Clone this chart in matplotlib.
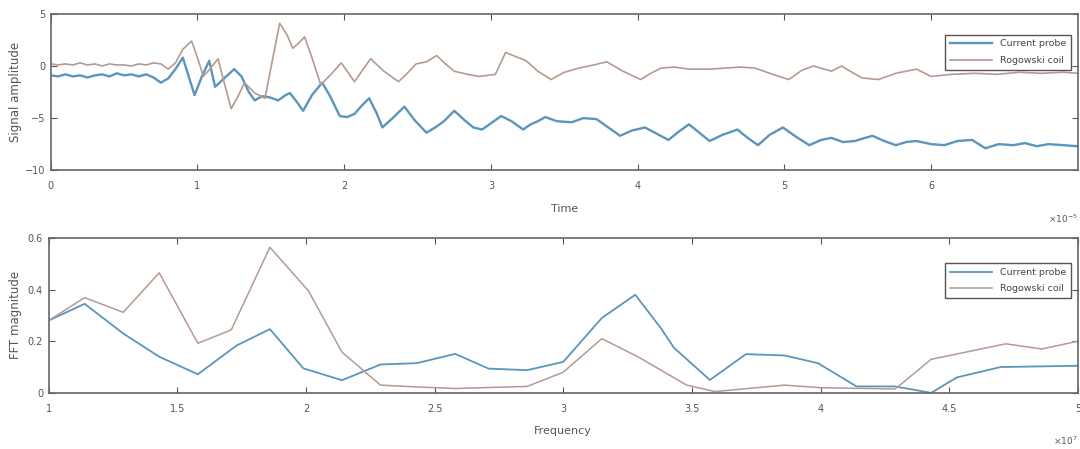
import matplotlib.pyplot as plt

# time-domain signals (time in units of 1e-5)
t_probe = [0.00, 0.05, 0.10, 0.15, 0.20, 0.25, 0.30, 0.35, 0.40, 0.45, 0.50, 0.55, 0.60, 0.65,
           0.70, 0.75, 0.80, 0.85, 0.90, 0.94, 0.98, 1.03, 1.08, 1.12, 1.18, 1.25, 1.30, 1.35,
           1.39, 1.44, 1.49, 1.55, 1.60, 1.63, 1.68, 1.72, 1.78, 1.85, 1.90, 1.97, 2.02, 2.07,
           2.12, 2.17, 2.22, 2.26, 2.33, 2.41, 2.48, 2.56, 2.62, 2.68, 2.75, 2.82, 2.88, 2.94,
           3.00, 3.07, 3.14, 3.22, 3.27, 3.32, 3.37, 3.45, 3.55, 3.63, 3.72, 3.80, 3.88, 3.96,
           4.05, 4.13, 4.21, 4.28, 4.35, 4.42, 4.49, 4.58, 4.68, 4.75, 4.82, 4.90, 4.99, 5.08,
           5.17, 5.25, 5.32, 5.40, 5.48, 5.55, 5.60, 5.68, 5.76, 5.83, 5.90, 6.00, 6.09, 6.18,
           6.28, 6.37, 6.46, 6.56, 6.64, 6.72, 6.80, 6.90, 7.00]
y_probe = [-0.9, -1.0, -0.8, -1.0, -0.9, -1.1, -0.9, -0.8, -1.0, -0.7, -0.9, -0.8, -1.0, -0.8,
           -1.1, -1.6, -1.2, -0.3, 0.8, -1.0, -2.8, -1.0, 0.5, -2.0, -1.2, -0.3, -1.0, -2.5,
           -3.3, -2.9, -3.0, -3.3, -2.8, -2.6, -3.5, -4.3, -2.8, -1.6, -2.8, -4.8, -4.9, -4.6,
           -3.8, -3.1, -4.5, -5.9, -5.0, -3.9, -5.2, -6.4, -5.9, -5.3, -4.3, -5.2, -5.9, -6.1,
           -5.5, -4.8, -5.3, -6.1, -5.6, -5.3, -4.9, -5.3, -5.4, -5.0, -5.1, -5.9, -6.7, -6.2,
           -5.9, -6.5, -7.1, -6.3, -5.6, -6.4, -7.2, -6.6, -6.1, -6.9, -7.6, -6.6, -5.9, -6.8,
           -7.6, -7.1, -6.9, -7.3, -7.2, -6.9, -6.7, -7.2, -7.6, -7.3, -7.2, -7.5, -7.6, -7.2,
           -7.1, -7.9, -7.5, -7.6, -7.4, -7.7, -7.5, -7.6, -7.7]

t_coil = [0.00, 0.05, 0.10, 0.15, 0.20, 0.25, 0.30, 0.35, 0.40, 0.45, 0.50, 0.55, 0.60, 0.65,
          0.70, 0.75, 0.80, 0.85, 0.90, 0.96, 1.00, 1.04, 1.09, 1.14, 1.18, 1.23, 1.28, 1.32,
          1.39, 1.46, 1.51, 1.56, 1.61, 1.65, 1.69, 1.73, 1.78, 1.84, 1.91, 1.98, 2.03, 2.07,
          2.13, 2.18, 2.27, 2.37, 2.43, 2.49, 2.56, 2.63, 2.69, 2.75, 2.84, 2.92, 3.03, 3.10,
          3.17, 3.24, 3.32, 3.41, 3.50, 3.60, 3.70, 3.79, 3.90, 4.02, 4.09, 4.16, 4.25, 4.35,
          4.49, 4.60, 4.70, 4.80, 4.92, 5.03, 5.12, 5.20, 5.32, 5.39, 5.46, 5.53, 5.64, 5.76,
          5.90, 6.00, 6.14, 6.30, 6.45, 6.60, 6.75, 6.90, 7.00]
y_coil = [0.2, 0.1, 0.2, 0.1, 0.3, 0.1, 0.2, 0.0, 0.2, 0.1, 0.1, 0.0, 0.2, 0.1,
          0.3, 0.2, -0.3, 0.3, 1.6, 2.4, 0.8, -1.0, -0.2, 0.7, -1.5, -4.1, -2.8, -1.6,
          -2.6, -3.1, 0.5, 4.1, 3.0, 1.7, 2.2, 2.8, 0.8, -1.8, -0.8, 0.3, -0.7, -1.5,
          -0.3, 0.7, -0.5, -1.5, -0.7, 0.2, 0.4, 1.0, 0.2, -0.5, -0.8, -1.0, -0.8, 1.3,
          0.9, 0.5, -0.5, -1.3, -0.6, -0.2, 0.1, 0.4, -0.5, -1.3, -0.7, -0.2, -0.1, -0.3,
          -0.3, -0.2, -0.1, -0.2, -0.8, -1.3, -0.4, 0.0, -0.5, 0.0, -0.6, -1.15, -1.3, -0.7,
          -0.3, -1.0, -0.8, -0.7, -0.8, -0.6, -0.7, -0.6, -0.7]

# spectra (frequency in units of 1e7)
f_probe = [1.00, 1.14, 1.29, 1.43, 1.58, 1.73, 1.86, 1.99, 2.14, 2.29, 2.43, 2.58, 2.71,
           2.86, 3.00, 3.15, 3.28, 3.38, 3.43, 3.57, 3.71, 3.86, 3.99, 4.14, 4.29, 4.43,
           4.53, 4.70, 5.00]
m_probe = [0.28, 0.345, 0.23, 0.14, 0.072, 0.183, 0.247, 0.095, 0.049, 0.11, 0.115, 0.151, 0.094,
           0.088, 0.12, 0.29, 0.38, 0.25, 0.175, 0.05, 0.15, 0.145, 0.115, 0.025, 0.025, 0.0,
           0.06, 0.1, 0.105]
f_coil = [1.00, 1.14, 1.29, 1.43, 1.58, 1.71, 1.86, 2.01, 2.14, 2.29, 2.43, 2.58, 2.86,
          3.00, 3.15, 3.29, 3.48, 3.59, 3.86, 4.00, 4.29, 4.43, 4.72, 4.86, 5.00]
m_coil = [0.28, 0.369, 0.312, 0.465, 0.192, 0.244, 0.564, 0.395, 0.158, 0.03, 0.023, 0.017, 0.025,
          0.08, 0.21, 0.14, 0.03, 0.005, 0.03, 0.02, 0.015, 0.13, 0.19, 0.17, 0.2]

blue = '#5c95bb'
red = '#b59a90'
grey = '#555555'

plt.rcParams['font.family'] = 'DejaVu Sans'
fig = plt.figure(figsize=(10.8, 4.49), dpi=100)
ax1 = fig.add_axes([0.047, 0.621, 0.951, 0.348])
ax2 = fig.add_axes([0.045, 0.125, 0.953, 0.345])

ax1.plot(t_probe, y_probe, color=blue, lw=1.7, label='Current probe')
ax1.plot(t_coil, y_coil, color=red, lw=1.2, label='Rogowski coil')
ax1.set_xlim(0, 7)
ax1.set_ylim(-10, 5)
ax1.set_xticks([0, 1, 2, 3, 4, 5, 6])
ax1.set_yticks([-10, -5, 0, 5])
ax1.set_xlabel('Time', fontsize=8, color=grey, labelpad=9)
ax1.set_ylabel('Signal amplitude', fontsize=8.5, color=grey, labelpad=2)
ax1.text(1.0, -0.27, r'$\times10^{-5}$', transform=ax1.transAxes, ha='right', va='top',
         fontsize=6.5, color=grey)

ax2.plot(f_probe, m_probe, color=blue, lw=1.3, label='Current probe')
ax2.plot(f_coil, m_coil, color=red, lw=1.1, label='Rogowski coil')
ax2.set_xlim(1, 5)
ax2.set_ylim(0, 0.6)
ax2.set_xticks([1, 1.5, 2, 2.5, 3, 3.5, 4, 4.5, 5])
ax2.set_xticklabels(['1', '1.5', '2', '2.5', '3', '3.5', '4', '4.5', '5'])
ax2.set_yticks([0, 0.2, 0.4, 0.6])
ax2.set_yticklabels(['0', '0.2', '0.4', '0.6'])
ax2.set_xlabel('Frequency', fontsize=8, color=grey, labelpad=9)
ax2.set_ylabel('FFT magnitude', fontsize=8.5, color=grey, labelpad=4)
ax2.text(1.0, -0.27, r'$\times10^{7}$', transform=ax2.transAxes, ha='right', va='top',
         fontsize=6.5, color=grey)

for ax, anchor in ((ax1, 0.88), (ax2, 0.85)):
    ax.tick_params(direction='in', top=True, right=True, length=4, labelsize=7,
                   colors=grey)
    ax.tick_params(axis='x', pad=8)
    ax.tick_params(axis='y', pad=4)
    for s in ax.spines.values():
        s.set_color('#666666')
        s.set_linewidth(1.2)
    leg = ax.legend(loc='upper right', bbox_to_anchor=(0.995, anchor), fontsize=6.8,
                    fancybox=False, framealpha=1, borderpad=0.5, handlelength=4.5,
                    labelspacing=0.8, borderaxespad=0.2)
    leg.get_frame().set_edgecolor('#555555')
    for txt in leg.get_texts():
        txt.set_color('#444444')

fig.savefig('out.png', dpi=100, facecolor='white')
